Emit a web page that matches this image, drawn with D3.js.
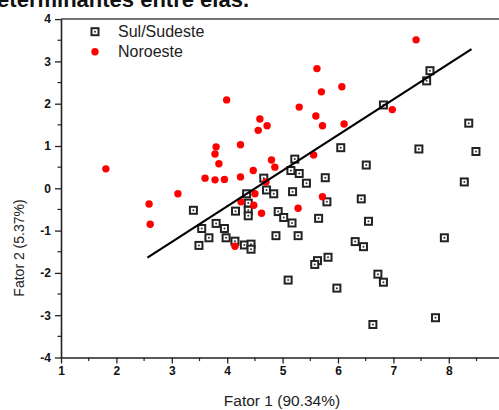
<!DOCTYPE html>
<html><head><meta charset="utf-8">
<script src="https://cdn.jsdelivr.net/npm/d3@7/dist/d3.min.js"></script>
<style>
body{margin:0;background:#fff;}
svg{display:block;font-family:Arial,"Liberation Sans",sans-serif;}
</style></head>
<body><svg id="c" width="499" height="410"></svg>
<script>
const sulX = [7.66,7.60,6.82,8.36,8.49,7.46,6.05,6.51,5.22,5.15,5.30,5.43,5.77,8.28,4.66,4.71,4.84,5.18,4.35,4.38,4.38,4.38,3.39,3.54,3.49,3.67,3.80,3.95,3.98,4.14,4.15,4.31,4.43,4.43,4.92,5.02,5.17,4.88,5.28,5.80,6.42,5.65,6.55,6.31,6.46,7.92,5.82,5.63,5.58,5.10,5.98,6.72,6.82,7.76,6.63];
const sulY = [2.78,2.54,1.97,1.54,0.87,0.93,0.96,0.55,0.69,0.42,0.35,0.12,0.25,0.15,0.24,-0.04,-0.13,-0.08,-0.13,-0.35,-0.52,-0.65,-0.52,-0.95,-1.35,-1.17,-0.83,-0.95,-1.17,-1.25,-0.54,-1.34,-1.32,-1.44,-0.55,-0.69,-0.82,-1.12,-1.12,-0.32,-0.25,-0.71,-0.78,-1.26,-1.38,-1.17,-1.63,-1.71,-1.80,-2.17,-2.36,-2.03,-2.22,-3.06,-3.22];
const norX = [1.81,3.99,4.59,4.72,4.56,3.80,4.24,3.78,3.85,3.60,3.78,3.95,4.24,4.47,4.80,4.86,7.41,5.62,6.07,5.70,5.30,6.98,5.60,5.72,6.11,5.56,4.70,2.59,2.61,3.11,4.50,4.25,4.48,4.62,4.14,5.72,5.28];
const norY = [0.46,2.09,1.64,1.48,1.37,0.98,1.03,0.81,0.58,0.24,0.20,0.21,0.27,0.42,0.67,0.50,3.51,2.83,2.40,2.28,1.92,1.86,1.71,1.48,1.52,0.79,0.15,-0.37,-0.85,-0.13,-0.13,-0.32,-0.40,-0.59,-1.37,-0.20,-0.47];
const lineX = [2.56,8.41];
const lineY = [-1.64,3.29];
const xTicks = [1,2,3,4,5,6,7,8,9];
const yTicks = [-4,-3,-2,-1,0,1,2,3,4];
const seriesNames = ["Sul/Sudeste","Noroeste"];
const xTitle = "Fator 1 (90.34%)";
const yTitle = "Fator 2 (5.37%)";
const headText = "determinantes entre elas.";

const svg = d3.select("#c");
const x = d3.scaleLinear().domain([1,9]).range([61,504.2]);
const y = d3.scaleLinear().domain([-4,4]).range([357.5,19.1]);

// cut-off heading text
svg.append("text").attr("x",249).attr("y",7).attr("text-anchor","end")
  .attr("font-size",22).attr("font-weight","bold").attr("fill","#111").text(headText);

// top frame line
svg.append("line").attr("x1",x(1)).attr("x2",x(9)).attr("y1",y(4)).attr("y2",y(4))
  .attr("stroke","#444").attr("stroke-width",1.5);

// minor ticks
const minorX = d3.range(1.5,9,1), minorY = d3.range(-3.5,4,1);
svg.append("g").selectAll("line").data(minorX).join("line")
  .attr("x1",d=>x(d)).attr("x2",d=>x(d)).attr("y1",y(-4)).attr("y2",y(-4)+3.5)
  .attr("stroke","#222").attr("stroke-width",1.2);
svg.append("g").selectAll("line").data(minorY).join("line")
  .attr("y1",d=>y(d)).attr("y2",d=>y(d)).attr("x1",x(1)).attr("x2",x(1)-3.5)
  .attr("stroke","#222").attr("stroke-width",1.2);

const gx = svg.append("g").attr("transform",`translate(0,${y(-4)})`)
  .call(d3.axisBottom(x).tickValues(xTicks).tickFormat(d3.format("d")).tickSize(6).tickSizeOuter(0).tickPadding(3));
const gy = svg.append("g").attr("transform",`translate(${x(1)},0)`)
  .call(d3.axisLeft(y).tickValues(yTicks).tickFormat(d=>d3.format("d")(d).replace("−","-")).tickSize(6).tickSizeOuter(0).tickPadding(4));
[gx,gy].forEach(g=>{
  g.select(".domain").attr("stroke","#222").attr("stroke-width",1.6);
  g.selectAll(".tick line").attr("stroke","#222").attr("stroke-width",1.3);
  g.selectAll(".tick text").attr("font-size",12).attr("font-weight","bold").attr("fill","#111")
    .attr("font-family","Arial, 'Liberation Sans', sans-serif");
});

// axis titles
svg.append("text").attr("x",282).attr("y",406).attr("text-anchor","middle")
  .attr("font-size",15.5).attr("fill","#222").text(xTitle);
svg.append("text").attr("transform","translate(24,248) rotate(-90)").attr("text-anchor","middle")
  .attr("font-size",14).attr("fill","#222").text(yTitle);

// squares
const sq = sulX.map((v,i)=>({x:v,y:sulY[i]}));
const sg = svg.append("g");
const s = 7;
sg.selectAll("rect").data(sq).join("rect")
  .attr("x",d=>x(d.x)-s/2).attr("y",d=>y(d.y)-s/2).attr("width",s).attr("height",s)
  .attr("fill","#fff").attr("stroke","#222").attr("stroke-width",2);
sg.selectAll("circle").data(sq).join("circle")
  .attr("cx",d=>x(d.x)).attr("cy",d=>y(d.y)).attr("r",1).attr("fill","#333");

// red dots
const rd = norX.map((v,i)=>({x:v,y:norY[i]}));
svg.append("g").selectAll("circle").data(rd).join("circle")
  .attr("cx",d=>x(d.x)).attr("cy",d=>y(d.y)).attr("r",3.7).attr("fill","#f00");

// regression line
svg.append("line").attr("x1",x(lineX[0])).attr("y1",y(lineY[0])).attr("x2",x(lineX[1])).attr("y2",y(lineY[1]))
  .attr("stroke","#000").attr("stroke-width",2.2);

// legend
const lg = svg.append("g");
lg.append("rect").attr("x",95-s/2).attr("y",31.7-s/2).attr("width",s).attr("height",s)
  .attr("fill","#fff").attr("stroke","#222").attr("stroke-width",2);
lg.append("circle").attr("cx",95).attr("cy",31.7).attr("r",1).attr("fill","#333");
lg.append("circle").attr("cx",95).attr("cy",51.7).attr("r",3.7).attr("fill","#f00");
lg.append("text").attr("x",118).attr("y",37).attr("font-size",16).attr("fill","#222").text(seriesNames[0]);
lg.append("text").attr("x",118).attr("y",57).attr("font-size",16).attr("fill","#222").text(seriesNames[1]);
</script></body></html>
